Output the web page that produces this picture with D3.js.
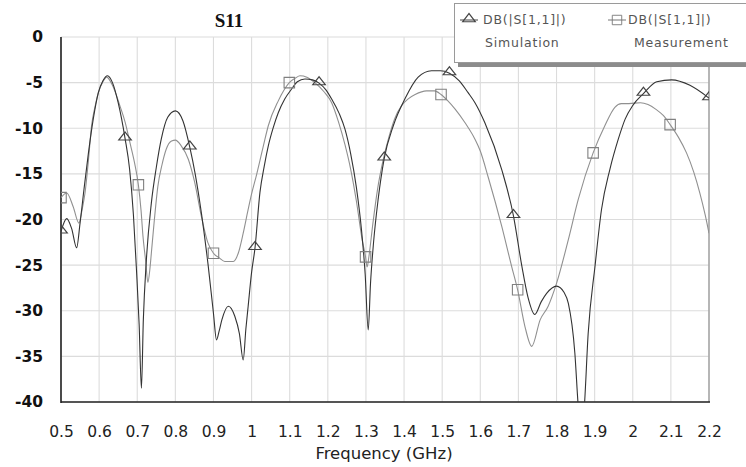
<!DOCTYPE html>
<html><head><meta charset="utf-8">
<script src="https://cdn.jsdelivr.net/npm/d3@7/dist/d3.min.js"></script>
<style>body{margin:0;background:#fff;}svg{display:block;}</style>
</head><body>
<svg id="chart" width="746" height="467"></svg>
<script>
// ---- data ----
const title = "S11";
const xLabel = "Frequency (GHz)";
const xTicks = [0.5,0.6,0.7,0.8,0.9,1.0,1.1,1.2,1.3,1.4,1.5,1.6,1.7,1.8,1.9,2.0,2.1,2.2];
const yTicks = [0,-5,-10,-15,-20,-25,-30,-35,-40];
const seriesNames = ["Simulation","Measurement"];
const legendTitle = "DB(|S[1,1]|)";

const simFreq = [0.5,0.515,0.528,0.541,0.55,0.56,0.572,0.585,0.598,0.61,0.622,0.635,0.65,0.668,0.68,0.69,0.698,0.705,0.711,0.716,0.724,0.737,0.75,0.763,0.78,0.8,0.82,0.838,0.852,0.869,0.886,0.9,0.908,0.915,0.922,0.939,0.956,0.968,0.978,0.985,0.991,1.0,1.009,1.022,1.033,1.044,1.057,1.07,1.087,1.105,1.12,1.14,1.16,1.177,1.195,1.21,1.23,1.245,1.26,1.275,1.288,1.298,1.306,1.312,1.32,1.332,1.348,1.372,1.402,1.437,1.472,1.495,1.519,1.545,1.568,1.586,1.612,1.656,1.687,1.709,1.725,1.743,1.76,1.774,1.8,1.82,1.831,1.848,1.857,1.865,1.873,1.883,1.901,1.918,1.94,1.962,1.98,2.0,2.028,2.063,2.102,2.15,2.2];
const simDb = [-21.3,-19.9,-21.0,-23.1,-20.4,-16.8,-12.7,-8.9,-6.1,-4.8,-4.25,-5.0,-7.2,-11.1,-14.5,-19.5,-25.5,-31.5,-38.5,-31,-24.4,-18.2,-14.3,-11.2,-8.8,-8.1,-9.2,-12.1,-15.0,-19.5,-25,-30.3,-33.2,-32.2,-31,-29.5,-30.6,-32.5,-35.4,-32,-29.5,-25.8,-23.1,-17,-14.2,-11.9,-9.9,-8.3,-6.8,-5.7,-4.9,-4.6,-4.7,-5.05,-5.8,-6.8,-8.4,-10.1,-12.8,-16.5,-21,-26,-32.1,-27,-22.5,-17.8,-13.3,-9.7,-6.8,-4.4,-3.7,-3.7,-3.96,-4.8,-6.1,-7.2,-9.4,-14.5,-19.6,-25.1,-28.5,-30.4,-29,-28.1,-27.3,-28,-29.2,-34.6,-40.5,-44,-40.5,-32.5,-25.1,-18.9,-14.5,-11.2,-9.0,-7.5,-6.2,-4.9,-4.7,-5.3,-6.7];

const measFreq = [0.5,0.515,0.532,0.547,0.555,0.563,0.572,0.58,0.59,0.598,0.61,0.62,0.635,0.655,0.668,0.681,0.693,0.703,0.71,0.715,0.722,0.728,0.733,0.737,0.745,0.754,0.765,0.776,0.79,0.8,0.815,0.834,0.85,0.869,0.885,0.9,0.915,0.93,0.952,0.965,0.978,0.991,1.0,1.013,1.03,1.044,1.07,1.099,1.115,1.127,1.145,1.166,1.19,1.21,1.228,1.245,1.26,1.275,1.29,1.299,1.303,1.308,1.318,1.33,1.345,1.36,1.375,1.394,1.41,1.429,1.459,1.48,1.497,1.515,1.534,1.56,1.586,1.6,1.621,1.656,1.682,1.698,1.717,1.735,1.757,1.778,1.8,1.831,1.857,1.896,1.927,1.953,1.97,1.99,2.02,2.04,2.06,2.08,2.098,2.12,2.141,2.16,2.176,2.19,2.2];
const measDb = [-17.6,-17.1,-18.6,-20.4,-19,-17.1,-13.5,-9.8,-7.5,-6.1,-4.9,-4.4,-5.3,-7.6,-9.3,-11.6,-13.8,-16.2,-19,-21.8,-24.5,-26.9,-25.5,-23.7,-20,-16.4,-14,-12.3,-11.4,-11.3,-11.9,-13.4,-15.8,-19.8,-22.5,-23.7,-24.2,-24.6,-24.6,-23.7,-21.5,-18.9,-17.2,-15.1,-12.1,-9.7,-7.0,-5.0,-4.5,-4.25,-4.4,-5.0,-6.0,-7.2,-9.3,-11.8,-14.5,-18,-22.2,-24.1,-25.2,-24,-20.5,-16.8,-13.5,-11,-9,-7.5,-6.8,-6.3,-5.9,-5.9,-6.3,-7.0,-7.9,-9.4,-11.2,-12.5,-15.4,-20.7,-25.1,-27.7,-31.7,-33.9,-31,-29.5,-27,-22.2,-17.8,-12.7,-9.7,-7.7,-7.3,-7.3,-7.2,-7.4,-7.9,-8.6,-9.6,-11,-12.7,-14.8,-17.1,-19.5,-21.5];

// marker points (triangles on Simulation, squares on Measurement)
const simMarkFreq = [0.5,0.668,0.838,1.009,1.177,1.348,1.519,1.687,2.028,2.2];
const simMarkDb   = [-21.3,-11.1,-12.1,-23.1,-5.05,-13.3,-3.96,-19.6,-6.2,-6.7];
const measMarkFreq = [0.5,0.703,0.9,1.099,1.299,1.497,1.698,1.896,2.098];
const measMarkDb   = [-17.6,-16.2,-23.7,-5.0,-24.1,-6.3,-27.7,-12.7,-9.6];

// ---- drawing ----
const svg = d3.select("#chart");
const L = 61, R = 709, T = 37, B = 402;
const x = d3.scaleLinear().domain([0.5,2.2]).range([L,R]);
const y = d3.scaleLinear().domain([-40,0]).range([B,T]);
const simColor = "#333", measColor = "#909090";

svg.append("defs").append("clipPath").attr("id","plotclip")
  .append("rect").attr("x",L).attr("y",T).attr("width",R-L).attr("height",B-T);

// grid
const grid = svg.append("g");
grid.selectAll("line.v").data(xTicks).join("line")
  .attr("x1",d=>x(d)).attr("x2",d=>x(d)).attr("y1",T).attr("y2",B)
  .attr("stroke","#dcdcdc").attr("stroke-width",1.1);
grid.selectAll("line.h").data(yTicks).join("line")
  .attr("x1",L).attr("x2",R).attr("y1",d=>y(d)).attr("y2",d=>y(d))
  .attr("stroke","#dcdcdc").attr("stroke-width",1.1);

// axes with d3 axis generators (labels only)
const fmtX = d => (Math.round(d*10)/10).toString();
const xAxis = svg.append("g").attr("transform",`translate(0,${B})`)
  .call(d3.axisBottom(x).tickValues(xTicks).tickFormat(fmtX).tickSize(0).tickPadding(24));
xAxis.select(".domain").remove();
xAxis.selectAll("text").attr("font-family","DejaVu Sans, Arial, sans-serif").attr("font-size","15.5px").attr("fill","#222");

const yAxis = svg.append("g").attr("transform",`translate(${L},0)`)
  .call(d3.axisLeft(y).tickValues(yTicks).tickFormat(d=>d.toString()).tickSize(0).tickPadding(18));
yAxis.select(".domain").remove();
yAxis.selectAll("text").attr("font-family","DejaVu Sans, Arial, sans-serif").attr("font-size","15.5px").attr("fill","#111").attr("font-weight","bold");

// frame
svg.append("line").attr("x1",R).attr("x2",R).attr("y1",T).attr("y2",B).attr("stroke","#9a9a9a").attr("stroke-width",1.3);
svg.append("line").attr("x1",L).attr("x2",L).attr("y1",T).attr("y2",B+1).attr("stroke","#222").attr("stroke-width",1.6);
svg.append("line").attr("x1",L).attr("x2",R+1).attr("y1",B).attr("y2",B).attr("stroke","#222").attr("stroke-width",1.6);

// curves
const line = d3.line().x(d=>x(d[0])).y(d=>y(d[1])).curve(d3.curveMonotoneX);
const plot = svg.append("g").attr("clip-path","url(#plotclip)");
const measData = d3.zip(measFreq, measDb);
const simData = d3.zip(simFreq, simDb);
plot.append("path").datum(measData).attr("d",line).attr("fill","none").attr("stroke",measColor).attr("stroke-width",1.1);
plot.append("path").datum(simData).attr("d",line).attr("fill","none").attr("stroke",simColor).attr("stroke-width",1.1);

const tri = d3.symbol().type(d3.symbolTriangle).size(38);
const sq = d3.symbol().type(d3.symbolSquare).size(110);
plot.selectAll("path.tri").data(d3.zip(simMarkFreq, simMarkDb)).join("path")
  .attr("d",tri).attr("transform",d=>`translate(${x(d[0])},${y(d[1])-1}) scale(1.35,1)`)
  .attr("fill","none").attr("stroke","#444").attr("stroke-width",1);
plot.selectAll("path.sq").data(d3.zip(measMarkFreq, measMarkDb)).join("path")
  .attr("d",sq).attr("transform",d=>`translate(${x(d[0])},${y(d[1])})`)
  .attr("fill","none").attr("stroke","#808080").attr("stroke-width",1.1);

// title & x label
svg.append("text").attr("x",229).attr("y",27).attr("text-anchor","middle")
  .attr("font-family","Liberation Serif, Times New Roman, serif").attr("font-weight","bold").attr("font-size","19px").attr("fill","#111").text(title);
svg.append("text").attr("x",384).attr("y",459).attr("text-anchor","middle")
  .attr("font-family","DejaVu Sans, Arial, sans-serif").attr("font-size","16.5px").attr("fill","#222").text(xLabel);

// legend
const lg = svg.append("g");
lg.append("rect").attr("x",458).attr("y",8).attr("width",300).attr("height",59).attr("fill","#8c8c8c");
lg.append("rect").attr("x",454.5).attr("y",3.5).attr("width",300).attr("height",59).attr("fill","#fff").attr("stroke","#9a9a9a").attr("stroke-width",1);
const legItems = [
  {name:seriesNames[0], lx:460, tx:483, sym:tri, col:"#444", sc:"scale(1.35,1)"},
  {name:seriesNames[1], lx:608, tx:628, sym:sq, col:"#777", sc:"scale(0.9)"}
];
legItems.forEach((it,i)=>{
  const g = lg.append("g");
  g.append("line").attr("x1",it.lx).attr("x2",it.lx+18).attr("y1",20).attr("y2",20).attr("stroke",it.col).attr("stroke-width",1);
  g.append("path").attr("d",it.sym).attr("transform",`translate(${it.lx+9},${i===0?19:20}) ${it.sc}`).attr("fill","none").attr("stroke",it.col).attr("stroke-width",1);
  g.append("text").attr("x",it.tx).attr("y",24).attr("font-family","DejaVu Sans, Arial, sans-serif").attr("font-size","12.5px").attr("letter-spacing","0.8px").attr("fill","#555").text(legendTitle);
  g.append("text").attr("x",it.tx + (i===0?2:6)).attr("y",47).attr("font-family","DejaVu Sans, Arial, sans-serif").attr("font-size","12.5px").attr("letter-spacing","0.8px").attr("fill","#555").text(it.name);
});
</script>
</body></html>
